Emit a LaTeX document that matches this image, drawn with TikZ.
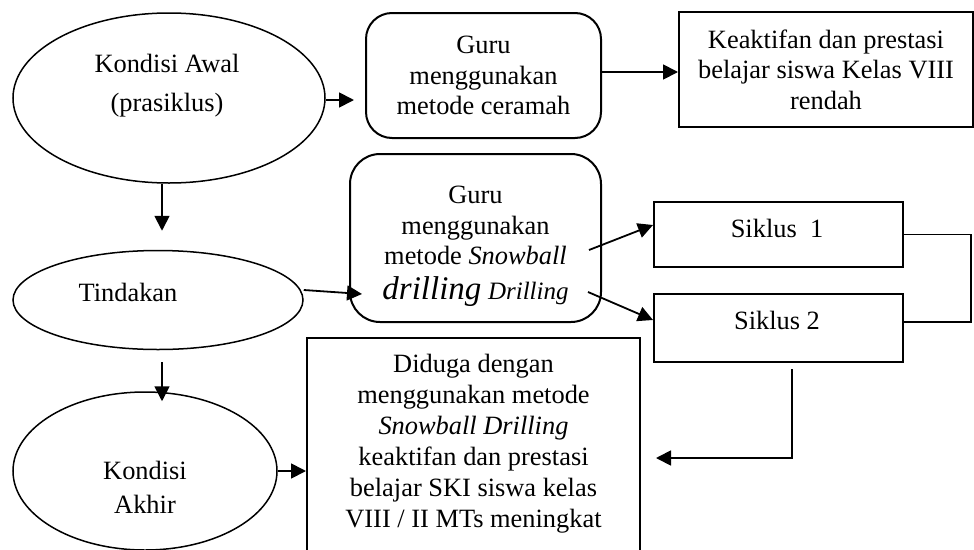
\documentclass[tikz,border=0pt]{standalone}
\usepackage{fontspec}
\setmainfont{Liberation Serif}
\usetikzlibrary{arrows.meta,shapes.geometric}
\begin{document}
\begin{tikzpicture}[x=1pt,y=-1pt,
  every node/.style={font=\fontsize{26.4}{30.5}\selectfont, align=center, inner sep=0pt},
  oval/.style={draw, ellipse, line width=1.5pt, inner sep=0pt},
  rbox/.style={draw, rectangle, rounded corners=26pt, line width=2pt},
  sbox/.style={draw, rectangle, line width=2pt},
  conn/.style={line width=1.8pt},
  arr/.style={conn, -{Triangle[length=15pt,width=15pt]}},
]
\path[use as bounding box] (0,0) rectangle (974,549);
\clip (0,0) rectangle (974,549);

% ovals
\node[oval, minimum width=312pt, minimum height=170pt] (e1) at (169,98) {};
\node (e1t) at (167,86) {Kondisi Awal\\[8.5pt](prasiklus)};
\node[oval, minimum width=290pt, minimum height=99pt] (e2) at (158,300) {};
\node (e2t) at (128,292) {Tindakan};
\node[oval, minimum width=264pt, minimum height=158pt] (e3) at (145,471) {};
\node (e3t) at (145,487) {Kondisi\\[3.5pt]Akhir};

% boxes
\node[rbox, minimum width=235pt, minimum height=125pt] (b2) at (483.5,75.5) {Guru\\menggunakan\\metode ceramah};
\node[sbox, minimum width=294pt, minimum height=115pt] (b3) at (826,69.5) {Keaktifan dan prestasi\\belajar siswa Kelas VIII\\rendah};
\node[rbox, rounded corners=30pt, minimum width=251pt, minimum height=168pt] (b4) at (475.5,238) {};
\node (b4t) at (475.5,246.5) {Guru\\menggunakan\\metode \textit{Snowball}\\[4pt]{\fontsize{33}{33}\selectfont\itshape drilling} {\fontsize{25}{25}\selectfont\itshape Drilling}};
\node[sbox, minimum width=249pt, minimum height=65pt] (s1) at (778.5,234.5) {};
\node (s1t) at (777,228) {Siklus\ \ 1};
\node[sbox, minimum width=249pt, minimum height=68pt] (s2) at (778.5,328) {};
\node (s2t) at (777,320) {Siklus 2};
\node[sbox, minimum width=333pt, minimum height=240pt, anchor=north] (b5) at (473.5,337) {};
\node[font=\fontsize{26.4}{31}\selectfont] (b5t) at (473.5,443.5) {Diduga dengan\\menggunakan metode\\\textit{Snowball Drilling}\\keaktifan dan prestasi\\belajar SKI siswa kelas\\VIII / II MTs meningkat};

% connectors
\draw[arr, shorten >=11pt] ([yshift=-2pt]e1.east) -- ([yshift=-2pt]e1.east -| b2.west);
\draw[arr] ([yshift=3.5pt]b2.east) -- ([yshift=3.5pt]b2.east -| b3.west);
\draw[arr, shorten >=19pt] ([xshift=-7pt]e1.south) -- ([xshift=-7pt]e1.south |- e2.north);
\draw[arr] ([yshift=10pt]e2.east) -- ([xshift=13pt,yshift=29pt]b4.south west);
\draw[arr] ([xshift=-13pt,yshift=-12pt]b4.east) -- ([yshift=9.5pt]s1.west);
\draw[arr] ([xshift=-14pt,yshift=-54pt]b4.east) -- ([yshift=8pt]s2.west);
\draw[conn] (s1.east) -- ++(67,0) |- ([yshift=6pt]s2.east);
\draw[arr, shorten >=15pt] ([xshift=13.5pt,yshift=-6pt]s2.south) |- (b5.east);
\draw[arr] ([xshift=4pt,yshift=-12pt]e2.south) -- ([xshift=17pt,yshift=-10pt]e3.north);
\draw[arr] (e3.east) -- (e3.east -| b5.west);
\end{tikzpicture}
\end{document}
